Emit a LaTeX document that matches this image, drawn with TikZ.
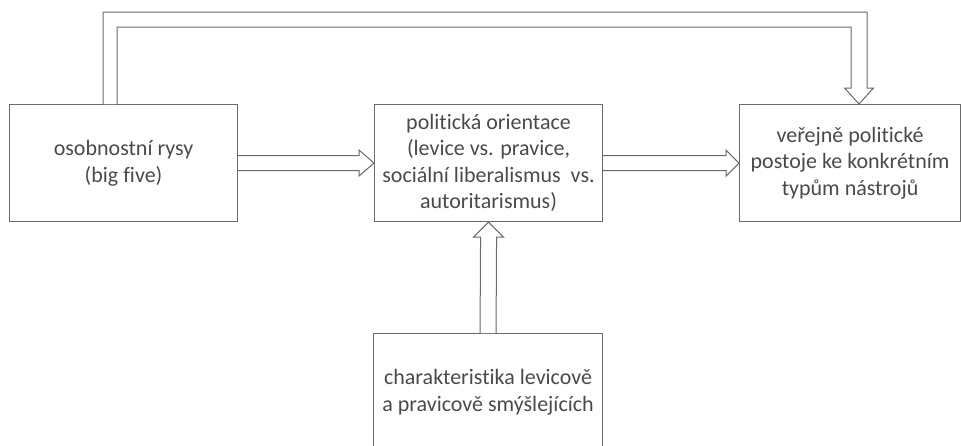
\documentclass[tikz,border=0pt]{standalone}
\usepackage{fontspec}
\setmainfont[Ligatures=NoCommon]{Carlito}
\usetikzlibrary{calc}
\definecolor{linegray}{HTML}{6A6A6A}
\definecolor{textgray}{HTML}{4A4A4A}
\tikzset{
  box/.style={draw=linegray, line width=1.1pt, minimum width=228pt, minimum height=117pt,
    anchor=north west, inner sep=0pt, align=center, text=textgray,
    font=\fontsize{22pt}{26.5pt}\selectfont},
  arr/.style={draw=linegray, line width=1pt, fill=white, line join=miter}
}
\begin{document}
\begin{tikzpicture}[x=1pt,y=-1pt]
\useasboundingbox (0,0) rectangle (961,445);
\begin{scope}
\clip (0,0) rectangle (961,445);
\node[box] (b1) at (9,104) {osobnostní rysy\\(big five)};
\node[box] (b2) at (374,104) {politická orientace\\(levice vs. pravice,\\sociální liberalismus\ \ vs.\\autoritarismus)};
\node[box, minimum width=221pt] (b3) at (739,104) {veřejně politické\\postoje ke konkrétním\\typům nástrojů};
\node[box, minimum width=229pt] (b4) at (373,333) {charakteristika levicově\\a pravicově smýšlejících};
\end{scope}
% b1 -> b2
\draw[arr] ($(b1.east)+(0,-7.5)$) -- ($(b2.west)+(-15,-7.5)$) -- ($(b2.west)+(-15,-13)$) -- (b2.west)
  -- ($(b2.west)+(-15,13)$) -- ($(b2.west)+(-15,7.5)$) -- ($(b1.east)+(0,7.5)$);
% b2 -> b3
\draw[arr] ($(b2.east)+(0,-7.5)$) -- ($(b3.west)+(-13,-7.5)$) -- ($(b3.west)+(-13,-13)$) -- (b3.west)
  -- ($(b3.west)+(-13,13)$) -- ($(b3.west)+(-13,7.5)$) -- ($(b2.east)+(0,7.5)$);
% b4 -> b2
\draw[arr] ($(b4.north)+(-8,0)$) -- ($(b2.south)+(-8,15)$) -- ($(b2.south)+(-15,15)$) -- (b2.south)
  -- ($(b2.south)+(15,15)$) -- ($(b2.south)+(8,15)$) -- ($(b4.north)+(8,0)$);
% b1 -> b3 over the top
\coordinate (t1) at ($(b1.north west)+(101,0)$);
\coordinate (t3) at ($(b3.north west)+(120,0)$);
\draw[arr] ($(t1)+(-7,0)$) |- ($(t3)+(8,-92)$) -- ($(t3)+(8,-16)$) -- ($(t3)+(14.5,-16)$) -- (t3)
  -- ($(t3)+(-14.5,-16)$) -- ($(t3)+(-8,-16)$) |- ($(t1)+(7,-77)$) -- ($(t1)+(7,0)$);
\end{tikzpicture}
\end{document}
